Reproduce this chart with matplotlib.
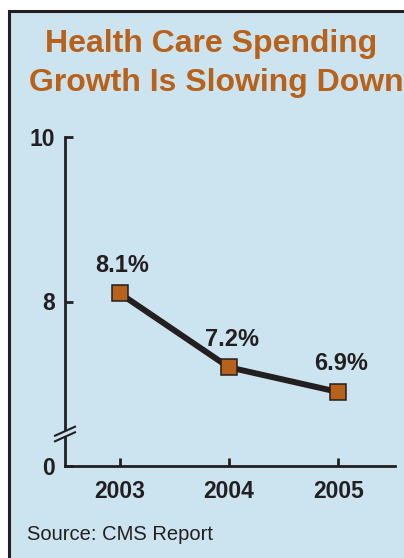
import matplotlib.pyplot as plt
from matplotlib.patches import Rectangle, Polygon

years = [2003, 2004, 2005]
growth = [8.1, 7.2, 6.9]
point_labels = ['8.1%', '7.2%', '6.9%']
ytick_vals = [6, 8, 10]
ytick_labels = ['0', '8', '10']

BG = '#cce4ef'
ORANGE = '#b8611a'
DARK = '#231f20'

W, H = 404, 558
fig = plt.figure(figsize=(W / 100, H / 100), dpi=100)
fig.patch.set_facecolor('white')

# framed panel
fig.patches.append(Rectangle((9 / W, -0.05), 1.0, (H - 11) / H + 0.05,
                             transform=fig.transFigure, facecolor=BG,
                             edgecolor=DARK, linewidth=2.2, zorder=-10))

title_font = ['Liberation Sans Narrow', 'Liberation Sans', 'DejaVu Sans']
fig.text(211 / W, 1 - 44 / H, 'Health Care Spending', ha='center', va='center',
         fontsize=23, fontweight='bold', color=ORANGE, family=title_font)
fig.text(216 / W, 1 - 83 / H, 'Growth Is Slowing Down', ha='center', va='center',
         fontsize=23, fontweight='bold', color=ORANGE, family=title_font)

ax = fig.add_axes([65 / W, (H - 466) / H, 330 / W, (466 - 137) / H])
ax.set_facecolor('none')
ax.plot(years, growth, color=DARK, lw=4.3, solid_capstyle='butt', zorder=3,
        marker='s', markersize=12, markerfacecolor=ORANGE,
        markeredgecolor=DARK, markeredgewidth=1.1)
for x, y, t in zip(years, growth, point_labels):
    ax.annotate(t, (x, y), xytext=(3, 28), textcoords='offset pixels',
                ha='center', va='center', fontsize=17, fontweight='bold',
                color=DARK, family=['Liberation Sans', 'DejaVu Sans'])

ax.set_xlim(2002.5, 2005.52)
ax.set_ylim(6, 10)
ax.set_xticks(years)
ax.set_xticklabels([str(y) for y in years])
ax.set_yticks(ytick_vals)
ax.set_yticklabels(ytick_labels)
for lab in ax.get_xticklabels() + ax.get_yticklabels():
    lab.set_fontweight('bold')
    lab.set_fontsize(16.5)
    lab.set_family(['Liberation Sans', 'DejaVu Sans'])
    lab.set_color(DARK)
ax.tick_params(axis='both', direction='in', length=6, width=2, color=DARK)
ax.tick_params(axis='x', pad=10)
ax.tick_params(axis='y', pad=7)
for s in ['top', 'right']:
    ax.spines[s].set_visible(False)
for s in ['left', 'bottom']:
    ax.spines[s].set_color(DARK)
    ax.spines[s].set_linewidth(2)

# axis break marks
yc = (466 - 434) / 329
dx = 10 / 330
dy = 4.5 / 329
off = 2.8 / 329
ax.add_patch(Polygon([(-dx, yc - dy - off), (dx, yc + dy - off),
                      (dx, yc + dy + off), (-dx, yc - dy + off)],
                     closed=True, transform=ax.transAxes, facecolor=BG,
                     edgecolor='none', clip_on=False, zorder=4))
for o in (-off, off):
    ax.plot([-dx, dx], [yc - dy + o, yc + dy + o], transform=ax.transAxes,
            color=DARK, lw=1.5, clip_on=False, zorder=5)

fig.text(27 / W, 1 - 535 / H, 'Source: CMS Report', ha='left', va='center',
         fontsize=14.5, color=DARK, family=['Liberation Sans', 'DejaVu Sans'])

fig.savefig('out.png', dpi=100)
